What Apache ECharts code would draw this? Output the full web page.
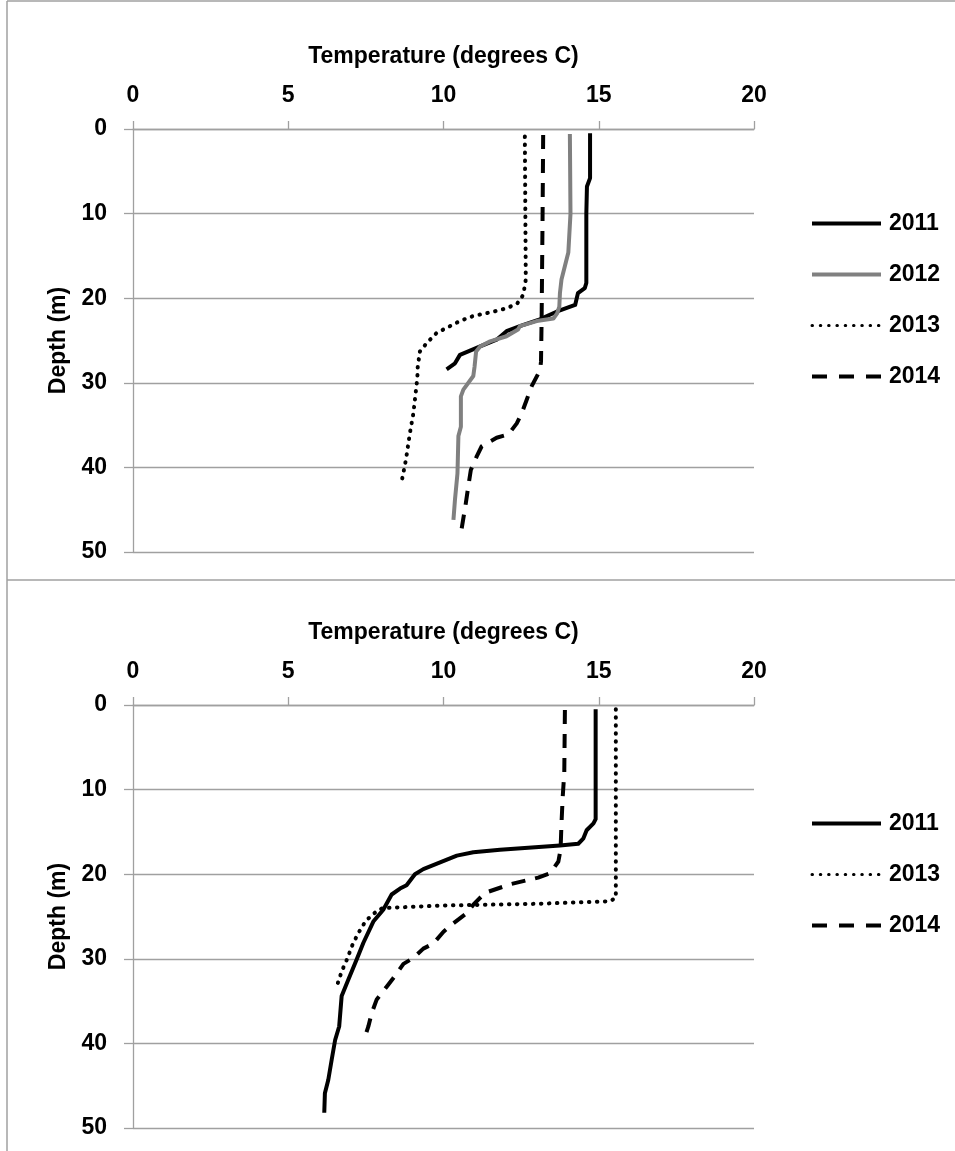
<!DOCTYPE html>
<html>
<head>
<meta charset="utf-8">
<script src="https://cdn.jsdelivr.net/npm/echarts@6/dist/echarts.min.js"></script>
<style>
html,body{margin:0;padding:0;background:#fff;}
#chart{width:955px;height:1151px;}
</style>
</head>
<body>
<div id="chart"></div>
<script>
// ---- Data (temperature °C, depth m) ----
const xTicks = [0, 5, 10, 15, 20];
const yTicks = [0, 10, 20, 30, 40, 50];
const legendTop = ['2011', '2012', '2013', '2014'];
const legendBottom = ['2011', '2013', '2014'];

// Top panel
const top2011T = [14.72, 14.72, 14.62, 14.6, 14.6, 14.55, 14.33, 14.24, 13.64, 13.1, 12.46, 12.03, 11.71, 11.18, 10.53, 10.37, 10.1];
const top2011D = [0.5, 5.8, 6.8, 10, 18.2, 18.8, 19.4, 20.8, 21.6, 22.5, 23.3, 23.9, 24.9, 25.7, 26.7, 27.7, 28.4];

const top2012T = [14.07, 14.09, 14.02, 13.91, 13.8, 13.75, 13.73, 13.66, 13.54, 13.0, 12.46, 12.4, 12.03, 11.5, 11.18, 11.05, 11.0, 10.96, 10.64, 10.56, 10.56, 10.48, 10.45, 10.37, 10.32];
const top2012D = [0.6, 10, 14.6, 16.2, 17.8, 19.4, 21, 21.8, 22.4, 22.7, 23.3, 23.7, 24.5, 25.1, 25.7, 26.3, 28.1, 29.2, 30.8, 31.6, 35.2, 36.3, 40.7, 43.8, 46.2];

const top2013T = [12.62, 12.65, 12.57, 12.38, 12.03, 11.6, 10.96, 10.53, 10.21, 9.78, 9.46, 9.24, 9.17, 9.16, 9.14, 9.03, 8.92, 8.79, 8.65];
const top2013D = [0.9, 17.8, 19.6, 20.6, 21.2, 21.6, 22.1, 22.7, 23.3, 24.1, 25.3, 26.3, 28.1, 29.2, 30.0, 33.6, 35.9, 39.1, 41.7];

const top2014T = [13.21, 13.19, 13.16, 13.14, 13.11, 12.84, 12.68, 12.52, 12.36, 12.09, 11.71, 11.23, 11.07, 10.88, 10.8, 10.72, 10.56];
const top2014D = [0.7, 10.7, 22.5, 27.5, 28.5, 30.4, 32.0, 33.6, 34.8, 36.1, 36.5, 37.5, 38.7, 40.3, 42.2, 44.2, 47.8];

// Bottom panel
const bot2011T = [14.9, 14.9, 14.83, 14.61, 14.5, 14.34, 13.75, 11.82, 10.96, 10.43, 9.89, 9.35, 9.08, 8.81, 8.6, 8.33, 8.06, 7.74, 7.42, 7.2, 6.93, 6.72, 6.64, 6.51, 6.4, 6.29, 6.18, 6.16];
const bot2011D = [0.5, 13.5, 14.0, 14.8, 15.8, 16.4, 16.6, 17.1, 17.4, 17.8, 18.6, 19.4, 20.0, 21.3, 21.7, 22.4, 24.2, 25.6, 28.1, 30.1, 32.5, 34.4, 38.0, 39.6, 41.9, 44.3, 45.9, 48.2];

const bot2013T = [15.55, 15.55, 15.36, 13.0, 10.0, 8.06, 7.9, 7.5, 7.25, 7.05, 6.9, 6.72, 6.54];
const bot2013D = [0.5, 22.8, 23.2, 23.5, 23.7, 24.0, 24.2, 25.5, 27.0, 28.5, 30.0, 31.5, 33.5];

const bot2014T = [13.91, 13.89, 13.84, 13.8, 13.77, 13.7, 13.43, 13.05, 12.14, 11.34, 10.96, 10.75, 10.32, 10.0, 9.67, 9.35, 9.03, 8.71, 8.38, 8.17, 7.85, 7.69, 7.58, 7.47];
const bot2014D = [0.6, 8, 10.8, 14.0, 17.1, 18.5, 19.9, 20.4, 21.2, 22.2, 23.6, 24.6, 25.8, 26.8, 28.2, 28.8, 29.9, 30.6, 32.3, 33.3, 34.8, 36.4, 38.0, 39.2];

// ---- Styling ----
const FONT = '"Liberation Sans", Arial, sans-serif';
const FS = 23;
const GRID_C = '#a0a0a0';
const zip = (t, d) => t.map((v, i) => [v, d[i]]);

const styles = {
  '2011': { color: '#000000', width: 4, type: 'solid' },
  '2012': { color: '#808080', width: 4, type: 'solid' },
  '2013': { color: '#000000', width: 4, type: [0.5, 7.5], cap: 'round' },
  '2014': { color: '#000000', width: 4, type: [14, 10] }
};
const legendStyles = {
  '2011': { color: '#000000', width: 4, type: 'solid' },
  '2012': { color: '#808080', width: 4, type: 'solid' },
  '2013': { color: '#000000', width: 3, type: [0.5, 7.8], cap: 'round' },
  '2014': { color: '#000000', width: 4, type: [15, 12] }
};

function mkSeries(name, t, d, idx) {
  const s = styles[name];
  return {
    type: 'line', name: name, xAxisIndex: idx, yAxisIndex: idx,
    data: zip(t, d), symbol: 'none', smooth: false,
    lineStyle: { color: s.color, width: s.width, type: s.type, cap: s.cap || 'butt', join: 'round' },
    itemStyle: { color: s.color },
    emphasis: { disabled: true }
  };
}

function mkX(idx) {
  return {
    gridIndex: idx, type: 'value', position: 'top', min: 0, max: 20, interval: 5,
    name: 'Temperature (degrees C)', nameLocation: 'middle', nameGap: 61,
    nameTextStyle: { fontFamily: FONT, fontSize: FS, fontWeight: 'bold', color: '#000' },
    axisLine: { show: true, onZero: false, lineStyle: { color: GRID_C, width: 1.3 } },
    axisTick: { show: true, length: 8, lineStyle: { color: GRID_C, width: 1.3 } },
    axisLabel: { margin: 22, fontFamily: FONT, fontSize: FS, fontWeight: 'bold', color: '#000',
      formatter: v => (xTicks.includes(v) ? String(v) : '') },
    splitLine: { show: false }
  };
}
function mkY(idx) {
  return {
    gridIndex: idx, type: 'value', inverse: true, min: 0, max: 50, interval: 10,
    name: 'Depth (m)', nameLocation: 'middle', nameGap: 63, nameRotate: 90,
    nameTextStyle: { fontFamily: FONT, fontSize: FS, fontWeight: 'bold', color: '#000' },
    axisLine: { show: true, onZero: false, lineStyle: { color: GRID_C, width: 1.3 } },
    axisTick: { show: true, length: 9, lineStyle: { color: GRID_C, width: 1.3 } },
    axisLabel: { margin: 26, fontFamily: FONT, fontSize: FS, fontWeight: 'bold', color: '#000',
      formatter: v => (yTicks.includes(v) ? String(v) : '') },
    splitLine: { show: true, lineStyle: { color: GRID_C, width: 1.3 } }
  };
}
function mkLegend(names, top) {
  return {
    data: names.map(n => {
      const s = legendStyles[n];
      return { name: n, lineStyle: { color: s.color, width: s.width, type: s.type, cap: s.cap || 'butt' } };
    }),
    orient: 'vertical', left: 810, top: top, padding: 0,
    itemWidth: 69, itemHeight: 20, itemGap: 28, selectedMode: false,
    itemStyle: { opacity: 0, color: 'rgba(0,0,0,0)', borderWidth: 0 },
    textStyle: { fontFamily: FONT, fontSize: FS, fontWeight: 'bold', color: '#000', lineHeight: 20, padding: [0, 0, 0, 3] }
  };
}

const option = {
  animation: false,
  backgroundColor: '#ffffff',
  grid: [
    { left: 133, top: 129, width: 621, height: 423 },
    { left: 133, top: 705, width: 621, height: 423 }
  ],
  xAxis: [mkX(0), mkX(1)],
  yAxis: [mkY(0), mkY(1)],
  legend: [mkLegend(legendTop, 212), mkLegend(legendBottom, 812)],
  series: [
    mkSeries('2011', top2011T, top2011D, 0),
    mkSeries('2012', top2012T, top2012D, 0),
    mkSeries('2013', top2013T, top2013D, 0),
    mkSeries('2014', top2014T, top2014D, 0),
    mkSeries('2011', bot2011T, bot2011D, 1),
    mkSeries('2013', bot2013T, bot2013D, 1),
    mkSeries('2014', bot2014T, bot2014D, 1)
  ],
  graphic: [
    { type: 'line', shape: { x1: 7, y1: 1, x2: 955, y2: 1 }, style: { stroke: GRID_C, lineWidth: 1.5 }, silent: true },
    { type: 'line', shape: { x1: 7, y1: 1, x2: 7, y2: 1151 }, style: { stroke: GRID_C, lineWidth: 1.5 }, silent: true },
    { type: 'line', shape: { x1: 7, y1: 580, x2: 955, y2: 580 }, style: { stroke: GRID_C, lineWidth: 1.5 }, silent: true }
  ]
};

const chart = echarts.init(document.getElementById('chart'), null, { renderer: 'canvas' });
chart.setOption(option);
</script>
</body>
</html>
